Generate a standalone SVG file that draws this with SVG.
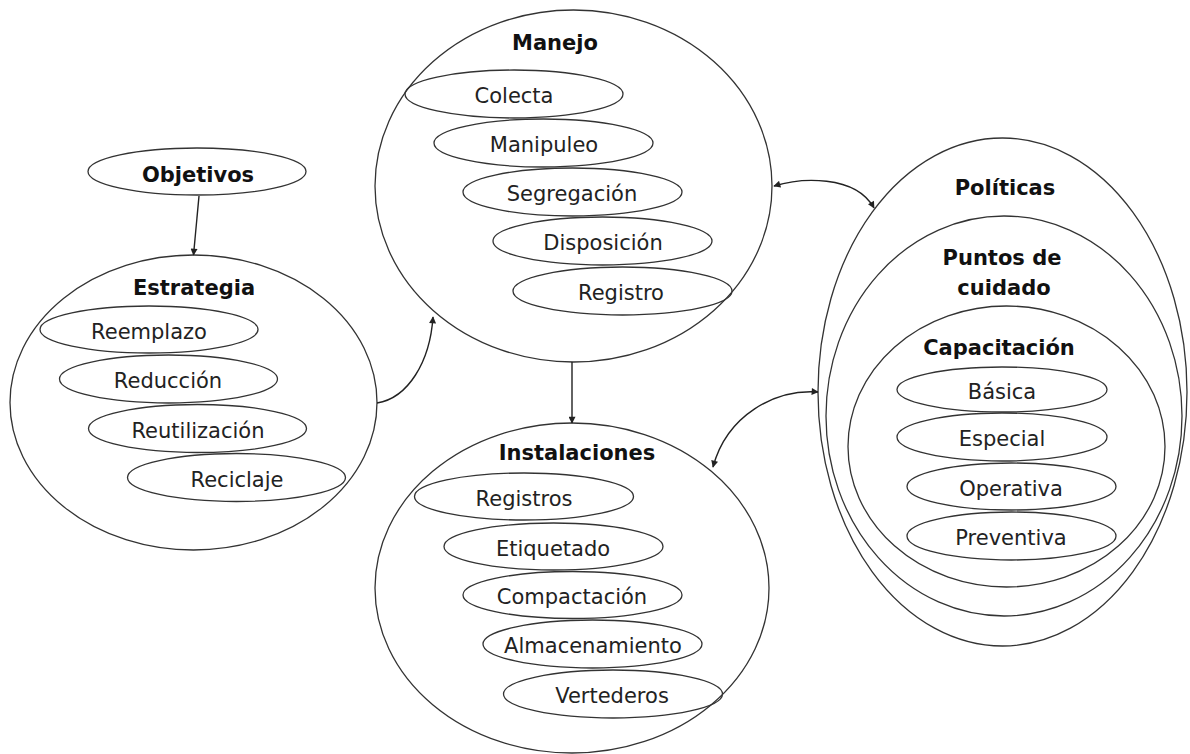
<svg xmlns="http://www.w3.org/2000/svg" width="1190" height="754" viewBox="0 0 1190 754">
<defs>
<marker id="arr" viewBox="0 0 10 10" refX="9" refY="5" markerWidth="8" markerHeight="7" markerUnits="userSpaceOnUse" orient="auto-start-reverse">
<path d="M0,0 L10,5 L0,10 z" fill="#222"/>
</marker>
<style>
.shape{fill:none;stroke:#333;stroke-width:1.3}
.conn{fill:none;stroke:#222;stroke-width:1.4}
.t{font-family:"DejaVu Sans","Verdana",sans-serif;font-size:21px;fill:#222;text-anchor:middle}
.b{font-family:"DejaVu Sans","Verdana",sans-serif;font-size:21px;font-weight:bold;fill:#111;text-anchor:middle}
</style>
</defs>
<rect width="1190" height="754" fill="#fff"/>

<g id="objetivos">
<ellipse class="shape" cx="197" cy="171.5" rx="109" ry="23.5"/>
<text class="b" x="198" y="182">Objetivos</text>
</g>

<g id="estrategia">
<ellipse class="shape" cx="193.5" cy="402.5" rx="183.5" ry="147.5"/>
<text class="b" x="194" y="295">Estrategia</text>
<ellipse class="shape" cx="149" cy="329.5" rx="109" ry="23.5"/>
<text class="t" x="149" y="338.5">Reemplazo</text>
<ellipse class="shape" cx="168.5" cy="379" rx="109" ry="24"/>
<text class="t" x="168" y="388">Reducción</text>
<ellipse class="shape" cx="197.5" cy="428.5" rx="109" ry="24"/>
<text class="t" x="198" y="437.5">Reutilización</text>
<ellipse class="shape" cx="236.5" cy="477.5" rx="109" ry="24"/>
<text class="t" x="237" y="486.5">Reciclaje</text>
</g>

<g id="manejo">
<ellipse class="shape" cx="573.5" cy="186" rx="198.5" ry="176"/>
<text class="b" x="555" y="50">Manejo</text>
<ellipse class="shape" cx="514" cy="94" rx="109" ry="24"/>
<text class="t" x="514" y="103">Colecta</text>
<ellipse class="shape" cx="543.5" cy="143" rx="109.5" ry="24"/>
<text class="t" x="544" y="152">Manipuleo</text>
<ellipse class="shape" cx="572.5" cy="192" rx="109.5" ry="24"/>
<text class="t" x="572" y="201">Segregación</text>
<ellipse class="shape" cx="602.5" cy="241" rx="109.5" ry="24"/>
<text class="t" x="603" y="250">Disposición</text>
<ellipse class="shape" cx="622.5" cy="291" rx="109.5" ry="24"/>
<text class="t" x="621" y="300">Registro</text>
</g>

<g id="instalaciones">
<ellipse class="shape" cx="572" cy="588" rx="197" ry="165"/>
<text class="b" x="577" y="460">Instalaciones</text>
<ellipse class="shape" cx="524" cy="496.5" rx="109.5" ry="23.5"/>
<text class="t" x="524" y="505.5">Registros</text>
<ellipse class="shape" cx="553.5" cy="546.5" rx="109.5" ry="23.5"/>
<text class="t" x="553" y="555.5">Etiquetado</text>
<ellipse class="shape" cx="572.5" cy="595" rx="109.5" ry="23.5"/>
<text class="t" x="572" y="604">Compactación</text>
<ellipse class="shape" cx="592.5" cy="644" rx="109.5" ry="24"/>
<text class="t" x="593" y="653">Almacenamiento</text>
<ellipse class="shape" cx="613" cy="694" rx="109.5" ry="24"/>
<text class="t" x="612" y="703">Vertederos</text>
</g>

<g id="politicas">
<ellipse class="shape" cx="1002.5" cy="392" rx="184.5" ry="254"/>
<text class="b" x="1005" y="195">Políticas</text>
</g>

<g id="puntos-de-cuidado">
<ellipse class="shape" cx="1004" cy="416" rx="178" ry="200"/>
<text class="b" x="1002" y="265">Puntos de</text>
<text class="b" x="1004" y="295">cuidado</text>
</g>

<g id="capacitacion">
<ellipse class="shape" cx="1006.5" cy="446.5" rx="158.5" ry="140.5"/>
<text class="b" x="999" y="355">Capacitación</text>
<ellipse class="shape" cx="1002" cy="389.5" rx="105" ry="22.5"/>
<text class="t" x="1002" y="398.5">Básica</text>
<ellipse class="shape" cx="1002" cy="437" rx="105" ry="24"/>
<text class="t" x="1002" y="446">Especial</text>
<ellipse class="shape" cx="1011.5" cy="486.5" rx="104.5" ry="23.5"/>
<text class="t" x="1011" y="495.5">Operativa</text>
<ellipse class="shape" cx="1011.5" cy="536" rx="104.5" ry="24"/>
<text class="t" x="1011" y="545">Preventiva</text>
</g>

<g id="connectors">
<path class="conn" d="M199 196 L193.5 255" marker-end="url(#arr)"/>
<path class="conn" d="M572 362 L572 423" marker-end="url(#arr)"/>
<path class="conn" d="M377 403 C408 398 430 362 433 317" marker-end="url(#arr)"/>
<path class="conn" d="M774 186 C800 178 855 174 874 208" marker-start="url(#arr)" marker-end="url(#arr)"/>
<path class="conn" d="M818 392 C775 389 727 415 713 467" marker-start="url(#arr)" marker-end="url(#arr)"/>
</g>
</svg>
